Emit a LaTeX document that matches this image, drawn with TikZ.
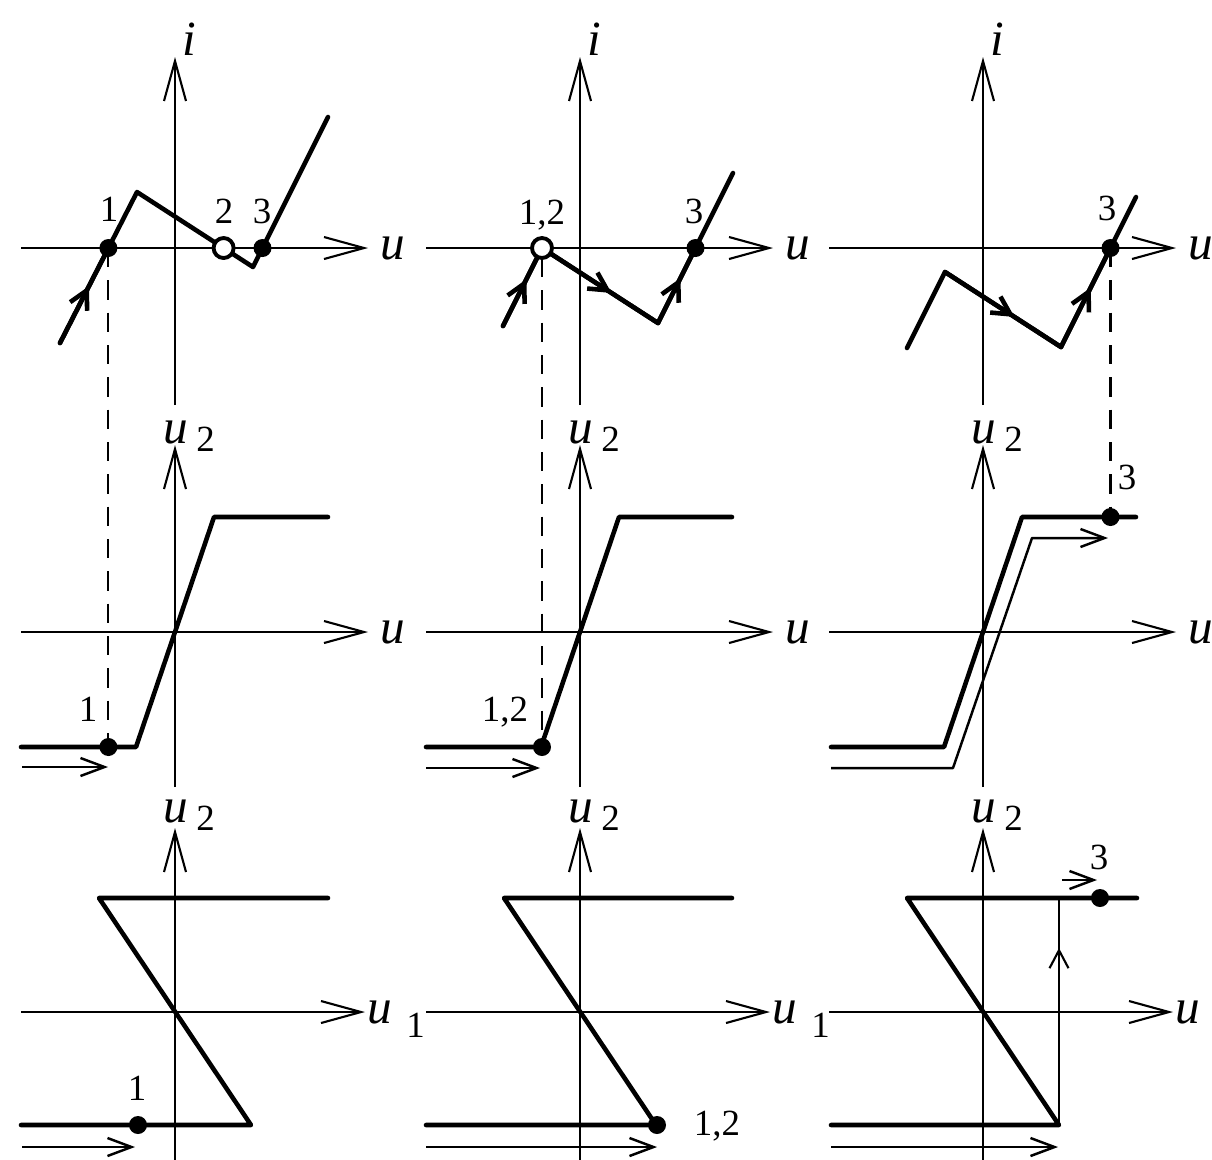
\documentclass[tikz,border=0pt]{standalone}
\usepackage{fontspec}
\setmainfont{Liberation Serif}
\usetikzlibrary{arrows.meta,decorations.markings}

\newcommand{\lowdigit}[2]{\raisebox{#1}{\upshape\fontsize{10.5}{12}\selectfont #2}}

\begin{document}
\begin{tikzpicture}[
  axis/.style={line width=0.6pt, -{Straight Barb[length=4mm,width=2.2mm]}},
  curve/.style={line width=1.3pt, line join=round, line cap=round},
  thinline/.style={line width=0.6pt},
  thinarrow/.style={line width=0.7pt, line join=round, -{Straight Barb[length=2.4mm,width=1.8mm]}},
  guide/.style={line width=0.6pt, dash pattern=on 5.5pt off 3.7pt},
  ring/.style={line width=1.1pt, fill=white},
  midarrow/.style={postaction={decorate}, decoration={markings,
      mark=at position #1 with {\arrow{Straight Barb[length=1.8mm,width=1.9mm]}}}},
  midarrow/.default=0.6,
  axlab/.style={inner sep=0pt, font=\fontsize{14}{16}\selectfont\itshape},
  ptlab/.style={inner sep=0pt, text depth=0pt, font=\fontsize{10.5}{12}\selectfont},
]

\useasboundingbox (0,0) rectangle (12.12,-11.59);
\clip (0,0) rectangle (12.12,-11.59);

% Axes of the nine panels
\foreach \cx/\col in {1.75/a,5.80/b,9.83/c} {
  % top row: i(u)
  \begin{scope}[shift={(\cx,-2.48)}]
    \draw[axis] (-1.54,0) -- (1.93,0);
    \draw[axis] (0,-1.57) -- (0,1.91);
    \node[axlab, anchor=base west] (u1\col) at (2.05,-0.115) {u};
    \node[axlab, anchor=base west] (i1\col) at (0.07,1.93) {i};
  \end{scope}
  % middle row: u2(u)
  \begin{scope}[shift={(\cx,-6.32)}]
    \draw[axis] (-1.54,0) -- (1.93,0);
    \draw[axis] (0,-1.55) -- (0,1.87);
    \node[axlab, anchor=base west] (u2\col) at (2.05,-0.115) {u};
    \node[axlab, anchor=base west] (v2\col) at (-0.12,1.89) {u\hspace{2.3pt}\lowdigit{-2.5pt}{2}};
  \end{scope}
  % bottom row: u2(u1)
  \begin{scope}[shift={(\cx,-10.12)}]
    \draw[axis] (-1.54,0) -- (1.90,0);
    \draw[axis] (0,-1.60) -- (0,1.84);
    \node[axlab, anchor=base west] (u3\col) at (1.92,-0.115) {u\hspace{4pt}\lowdigit{-4pt}{1}};
    \node[axlab, anchor=base west] (v3\col) at (-0.12,1.90) {u\hspace{2.3pt}\lowdigit{-2.5pt}{2}};
  \end{scope}
}

% Top row, left
\begin{scope}[shift={(1.75,-2.48)}]
  \coordinate (a1A) at (-1.15,-0.95);
  \coordinate (a1B) at (-0.38,0.56);
  \coordinate (a1C) at (0.78,-0.19);
  \coordinate (a1D) at (1.53,1.31);
  \coordinate (a1p) at (-0.666,0);
  \coordinate (a1q) at (0.486,0);
  \coordinate (a1r) at (0.875,0);
  \draw[curve] (a1A) -- (a1B) -- (a1C) -- (a1D);
  \draw[curve, midarrow] (a1A) -- (a1p);
  \fill (a1p) circle (0.09);
  \draw[ring] (a1q) circle (0.1);
  \fill (a1r) circle (0.09);
  \node[ptlab] (a1n1) at (-0.66,0.39) {1};
  \node[ptlab] (a1n2) at (0.49,0.37) {2};
  \node[ptlab] (a1n3) at (0.87,0.37) {3};
\end{scope}

% Top row, middle
\begin{scope}[shift={(5.80,-2.48)}]
  \coordinate (b1A) at (-0.77,-0.78);
  \coordinate (b1p) at (-0.38,0);
  \coordinate (b1C) at (0.78,-0.75);
  \coordinate (b1D) at (1.53,0.75);
  \coordinate (b1r) at (1.155,0);
  \draw[curve] (b1A) -- (b1p) -- (b1C) -- (b1D);
  \draw[curve, midarrow] (b1A) -- (b1p);
  \draw[curve, midarrow] (b1p) -- (b1C);
  \draw[curve, midarrow] (b1C) -- (b1r);
  \draw[ring] (b1p) circle (0.1);
  \fill (b1r) circle (0.09);
  \node[ptlab] (b1n12) at (-0.38,0.36) {1,2};
  \node[ptlab] (b1n3) at (1.14,0.37) {3};
\end{scope}

% Top row, right
\begin{scope}[shift={(9.83,-2.48)}]
  \coordinate (c1A) at (-0.76,-1.0);
  \coordinate (c1B) at (-0.38,-0.24);
  \coordinate (c1C) at (0.78,-0.99);
  \coordinate (c1D) at (1.53,0.51);
  \coordinate (c1r) at (1.275,0);
  \draw[curve] (c1A) -- (c1B) -- (c1C) -- (c1D);
  \draw[curve, midarrow] (c1B) -- (c1C);
  \draw[curve, midarrow] (c1C) -- (c1r);
  \fill (c1r) circle (0.09);
  \node[ptlab] (c1n3) at (1.24,0.40) {3};
\end{scope}

% Middle row, left
\begin{scope}[shift={(1.75,-6.32)}]
  \draw[curve] (-1.54,-1.15) -- (-0.39,-1.15) -- (0.39,1.15) -- (1.53,1.15);
  \coordinate (a2p) at (-0.666,-1.15);
  \fill (a2p) circle (0.09);
  \node[ptlab] (a2n1) at (-0.87,-0.77) {1};
  \draw[thinarrow] (-1.53,-1.35) -- (-0.67,-1.35);
\end{scope}

% Middle row, middle
\begin{scope}[shift={(5.80,-6.32)}]
  \draw[curve] (-1.54,-1.15) -- (-0.39,-1.15) -- (0.39,1.15) -- (1.52,1.15);
  \coordinate (b2p) at (-0.38,-1.15);
  \fill (b2p) circle (0.09);
  \node[ptlab] (b2n12) at (-0.75,-0.77) {1,2};
  \draw[thinarrow] (-1.54,-1.36) -- (-0.40,-1.36);
\end{scope}

% Middle row, right
\begin{scope}[shift={(9.83,-6.32)}]
  \draw[curve] (-1.52,-1.15) -- (-0.39,-1.15) -- (0.39,1.15) -- (1.53,1.15);
  \draw[thinarrow] (-1.52,-1.36) -- (-0.30,-1.36) -- (0.49,0.94) -- (1.25,0.94);
  \coordinate (c2p) at (1.275,1.15);
  \fill (c2p) circle (0.09);
  \node[ptlab] (c2n3) at (1.44,1.55) {3};
\end{scope}

% Bottom row, left
\begin{scope}[shift={(1.75,-10.12)}]
  \draw[curve] (1.53,1.14) -- (-0.76,1.14) -- (0.76,-1.13) -- (-1.54,-1.13);
  \fill (-0.37,-1.13) circle (0.09);
  \node[ptlab] (a3n1) at (-0.38,-0.76) {1};
  \draw[thinarrow] (-1.53,-1.35) -- (-0.40,-1.35);
\end{scope}

% Bottom row, middle
\begin{scope}[shift={(5.80,-10.12)}]
  \draw[curve] (1.52,1.14) -- (-0.76,1.14) -- (0.76,-1.13) -- (-1.54,-1.13);
  \fill (0.77,-1.13) circle (0.09);
  \node[ptlab] (b3n12) at (1.37,-1.11) {1,2};
  \draw[thinarrow] (-1.54,-1.35) -- (0.77,-1.35);
\end{scope}

% Bottom row, right
\begin{scope}[shift={(9.83,-10.12)}]
  \draw[thinline, midarrow=0.78] (0.76,-1.13) -- (0.76,1.14);
  \draw[curve] (1.54,1.14) -- (-0.76,1.14) -- (0.76,-1.13) -- (-1.52,-1.13);
  \fill (1.17,1.14) circle (0.09);
  \node[ptlab] (c3n3) at (1.16,1.55) {3};
  \draw[thinarrow] (0.79,1.32) -- (1.14,1.32);
  \draw[thinarrow] (-1.52,-1.35) -- (0.75,-1.35);
\end{scope}

% Dashed guides between the rows
\draw[guide] (a1p) -- (a2p);
\draw[guide] ([yshift=-1mm]b1p) -- (b2p);
\draw[guide] (c1r) -- (c2p);

\end{tikzpicture}
\end{document}
